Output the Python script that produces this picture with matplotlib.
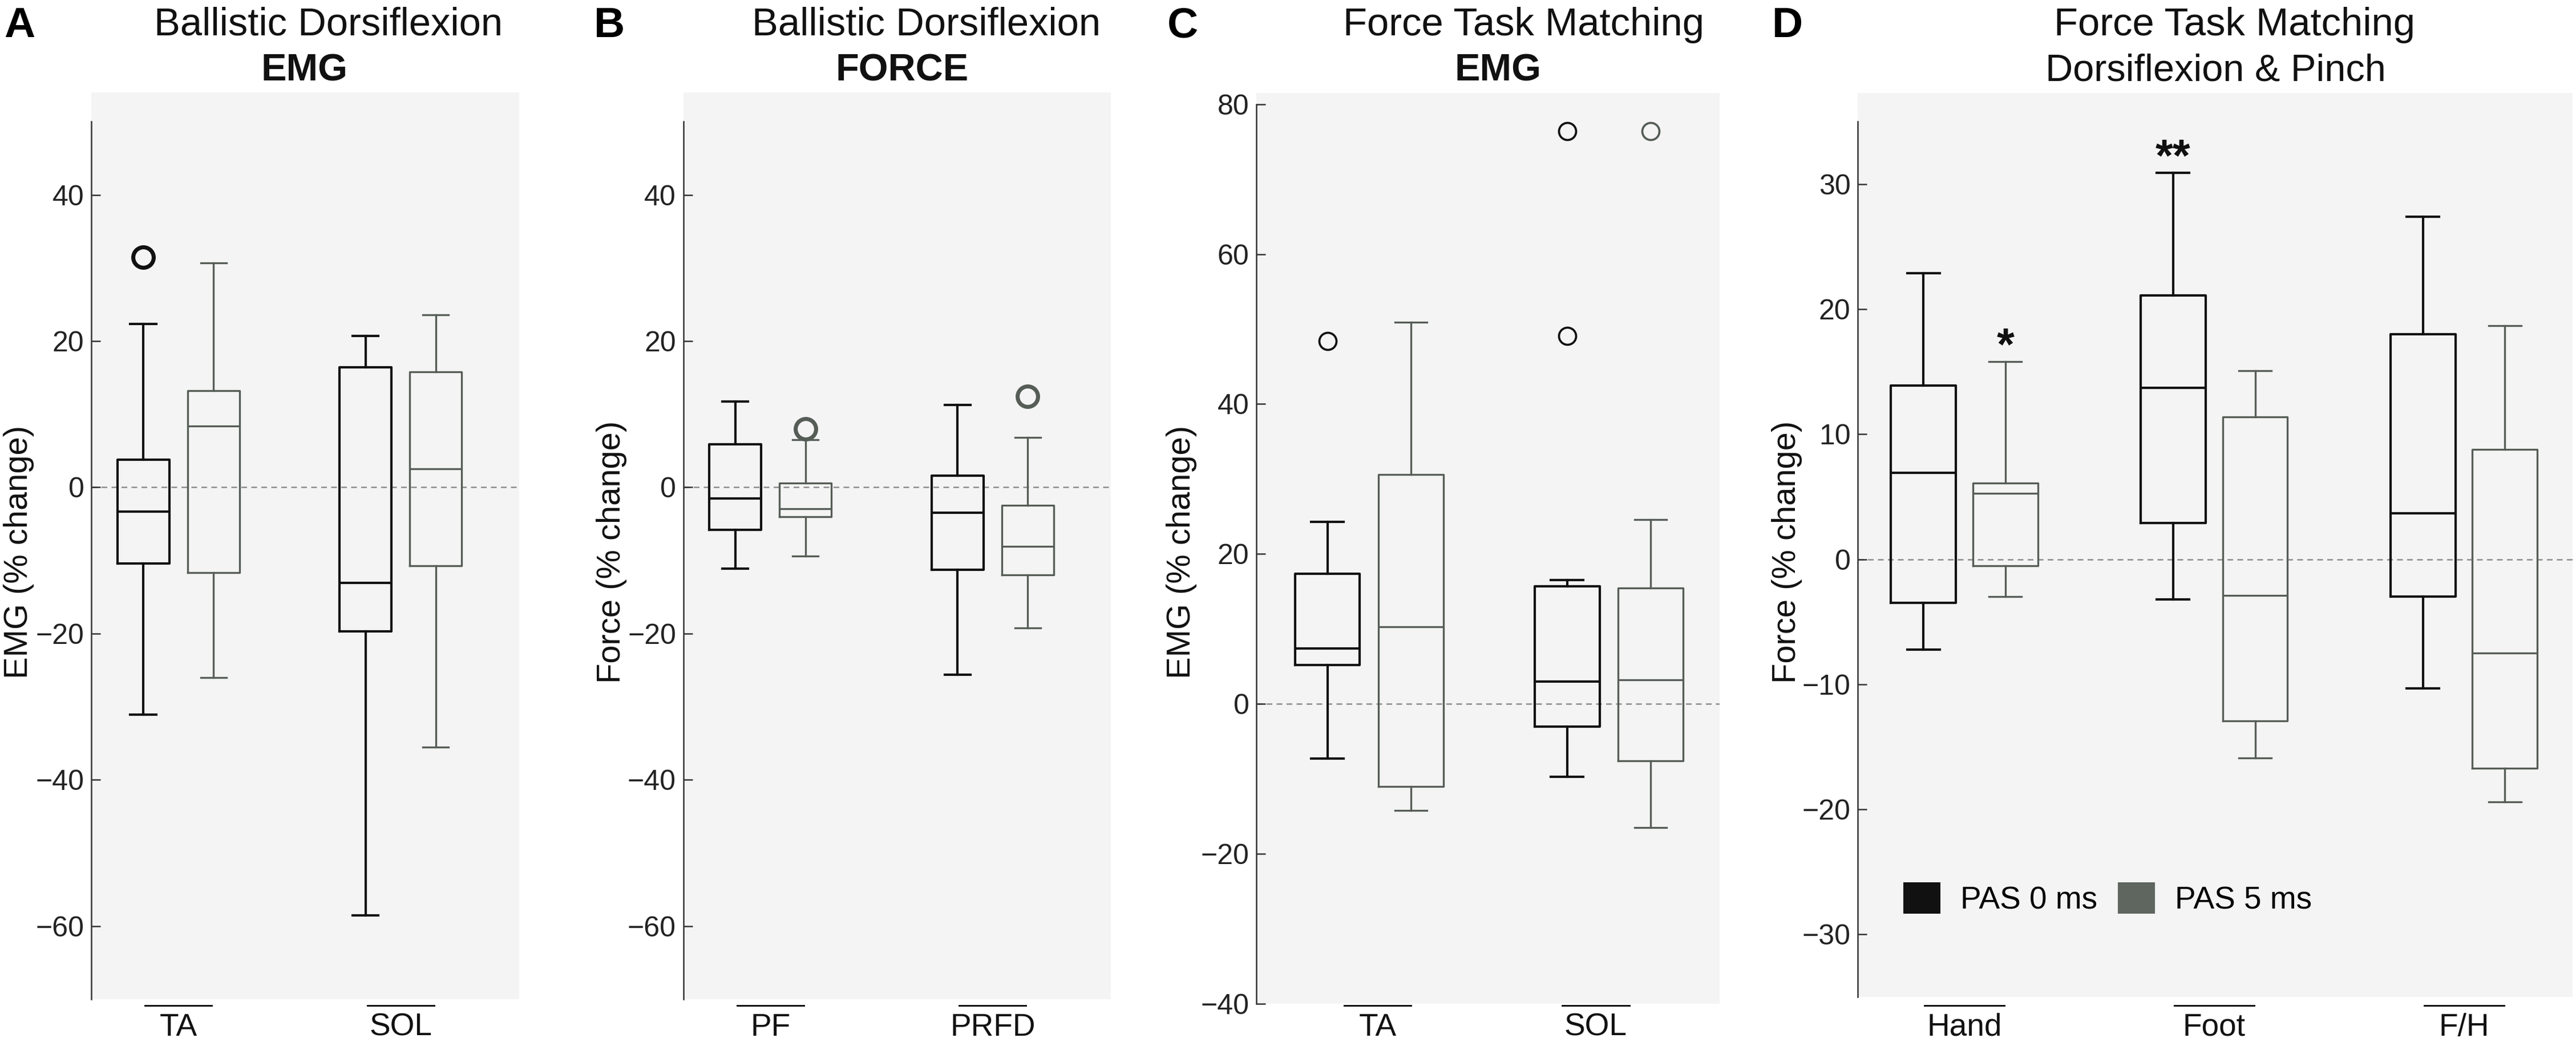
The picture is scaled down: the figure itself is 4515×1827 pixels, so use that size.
import matplotlib
matplotlib.use("Agg")
import matplotlib.pyplot as plt
from matplotlib.patches import Patch
from matplotlib.transforms import blended_transform_factory

plt.rcParams["font.family"] = ["Liberation Sans", "DejaVu Sans"]

W, H = 4515, 1827
DPI = 300

BLACK = "#111111"
GRAY = "#555d56"
BG = "#f4f4f4"
CONDITIONS = ["PAS 0 ms", "PAS 5 ms"]

# ---- A: Ballistic Dorsiflexion, EMG
a_groups = ["TA", "SOL"]
a0_whishi = [22.3, 20.7]
a0_q3 = [3.8, 16.4]
a0_med = [-3.3, -13.1]
a0_q1 = [-10.4, -19.7]
a0_whislo = [-31.1, -58.5]
a0_fliers = [[31.5], []]
a5_whishi = [30.7, 23.6]
a5_q3 = [13.2, 15.8]
a5_med = [8.4, 2.5]
a5_q1 = [-11.7, -10.7]
a5_whislo = [-26.0, -35.5]
a5_fliers = [[], []]

# ---- B: Ballistic Dorsiflexion, FORCE
b_groups = ["PF", "PRFD"]
b0_whishi = [11.7, 11.3]
b0_q3 = [5.9, 1.6]
b0_med = [-1.5, -3.5]
b0_q1 = [-5.8, -11.3]
b0_whislo = [-11.1, -25.6]
b0_fliers = [[], []]
b5_whishi = [6.5, 6.8]
b5_q3 = [0.6, -2.5]
b5_med = [-2.9, -8.1]
b5_q1 = [-4.0, -12.0]
b5_whislo = [-9.4, -19.2]
b5_fliers = [[8.0], [12.4]]

# ---- C: Force Task Matching, EMG
c_groups = ["TA", "SOL"]
c0_whishi = [24.3, 16.5]
c0_q3 = [17.4, 15.7]
c0_med = [7.4, 3.0]
c0_q1 = [5.2, -3.0]
c0_whislo = [-7.3, -9.7]
c0_fliers = [[48.4], [76.4, 49.1]]
c5_whishi = [50.9, 24.6]
c5_q3 = [30.6, 15.5]
c5_med = [10.3, 3.2]
c5_q1 = [-11.0, -7.6]
c5_whislo = [-14.2, -16.5]
c5_fliers = [[], [76.4]]

# ---- D: Force Task Matching, Dorsiflexion & Pinch
d_groups = ["Hand", "Foot", "F/H"]
d0_whishi = [22.9, 30.9, 27.4]
d0_q3 = [13.9, 21.1, 18.0]
d0_med = [6.9, 13.7, 3.7]
d0_q1 = [-3.5, 2.9, -3.0]
d0_whislo = [-7.2, -3.2, -10.3]
d0_fliers = [[], [], []]
d0_stars = ["", "**", ""]
d5_whishi = [15.8, 15.1, 18.7]
d5_q3 = [6.1, 11.4, 8.8]
d5_med = [5.3, -2.9, -7.5]
d5_q1 = [-0.5, -12.9, -16.7]
d5_whislo = [-3.0, -15.9, -19.4]
d5_fliers = [[], [], []]
d5_stars = ["*", "", ""]


def make_stats(whislo, q1, med, q3, whishi, fliers):
    return [dict(whislo=a, q1=b, med=c, q3=d, whishi=e, fliers=f)
            for a, b, c, d, e, f in zip(whislo, q1, med, q3, whishi, fliers)]


def px_axes(fig, left, top, right, bottom):
    return fig.add_axes([left / W, 1 - bottom / H, (right - left) / W, (bottom - top) / H])


def draw_boxes(ax, stats, pos, width, color, lw, ms, mew):
    props = dict(color=color, linewidth=lw)
    ax.bxp(stats, positions=pos, widths=width, showfliers=True,
           boxprops=props, whiskerprops=props, capprops=props,
           medianprops=props,
           flierprops=dict(marker="o", markerfacecolor="none", markeredgecolor=color,
                           markersize=ms, markeredgewidth=mew, linestyle="none"),
           manage_ticks=False, zorder=3)


def setup_panel(fig, ax, groups, s0, s5, offset, width, xlim, ylim, bounds, yticks,
                bottom_px, line_half, flier, label_pos=None):
    gx = list(range(1, len(groups) + 1))
    ax.set_facecolor(BG)
    ax.axhline(0, color="#8c8c8c", lw=0.6, ls=(0, (4, 3)), zorder=1)
    draw_boxes(ax, s0, [g - offset for g in gx], width, BLACK, 1.0, *flier[0])
    draw_boxes(ax, s5, [g + offset for g in gx], width, GRAY, 0.8, *flier[1])
    ax.set_xlim(*xlim)
    ax.set_ylim(*ylim)
    for side in ["top", "right", "bottom"]:
        ax.spines[side].set_visible(False)
    ax.spines["left"].set_bounds(*bounds)
    ax.spines["left"].set_color("#333333")
    ax.spines["left"].set_linewidth(0.6)
    ax.set_yticks(yticks)
    ax.tick_params(axis="y", direction="in", length=3.8, width=0.6, color="#333333",
                   pad=3, labelsize=12, labelcolor="#222222")
    lp = label_pos if label_pos is not None else gx
    ax.set_xticks(lp, groups)
    ax.tick_params(axis="x", length=0, labelsize=13.2, labelcolor="#111111",
                   pad=(1776 - bottom_px) / DPI * 72)
    tr = blended_transform_factory(ax.transData, fig.transFigure)
    yl = 1 - 1763 / H
    for x in lp:
        ax.plot([x - line_half, x + line_half], [yl, yl], transform=tr,
                clip_on=False, color="#111111", lw=0.7)


def main():
    fig = plt.figure(figsize=(W / DPI, H / DPI), dpi=DPI)

    thick = [(8.6, 1.7), (8.6, 1.7)]
    thin = [(7.2, 0.9), (7.2, 0.9)]

    ax_a = px_axes(fig, 160, 162, 909.5, 1752)
    setup_panel(fig, ax_a, a_groups,
                make_stats(a0_whislo, a0_q1, a0_med, a0_q3, a0_whishi, a0_fliers),
                make_stats(a5_whislo, a5_q1, a5_med, a5_q3, a5_whishi, a5_fliers),
                0.158, 0.233, (0.608, 2.532), (-70, 54), (-70, 50),
                [-60, -40, -20, 0, 20, 40], 1752, 0.15, thick)

    ax_b = px_axes(fig, 1197.5, 162, 1947, 1752)
    setup_panel(fig, ax_b, b_groups,
                make_stats(b0_whislo, b0_q1, b0_med, b0_q3, b0_whishi, b0_fliers),
                make_stats(b5_whislo, b5_q1, b5_med, b5_q3, b5_whishi, b5_fliers),
                0.158, 0.233, (0.608, 2.532), (-70, 54), (-70, 50),
                [-60, -40, -20, 0, 20, 40], 1752, 0.15, thick)

    ax_c = px_axes(fig, 2202, 163, 3014, 1760)
    setup_panel(fig, ax_c, c_groups,
                make_stats(c0_whislo, c0_q1, c0_med, c0_q3, c0_whishi, c0_fliers),
                make_stats(c5_whislo, c5_q1, c5_med, c5_q3, c5_whishi, c5_fliers),
                0.174, 0.27, (0.529, 2.462), (-40, 81.5), (-40, 80),
                [-40, -20, 0, 20, 40, 60, 80], 1760, 0.14, thin,
                label_pos=[1.035, 1.945])

    ax_d = px_axes(fig, 3256, 163, 4509, 1748)
    setup_panel(fig, ax_d, d_groups,
                make_stats(d0_whislo, d0_q1, d0_med, d0_q3, d0_whishi, d0_fliers),
                make_stats(d5_whislo, d5_q1, d5_med, d5_q3, d5_whishi, d5_fliers),
                0.164, 0.26, (0.573, 3.435), (-35, 37.3), (-35, 35),
                [-30, -20, -10, 0, 10, 20, 30], 1748, 0.16, thin)

    # significance stars above whisker caps
    for i, (s0, s5) in enumerate(zip(d0_stars, d5_stars)):
        if s0:
            ax_d.text(i + 1 - 0.164, d0_whishi[i] + 0.2, s0, ha="center", va="baseline",
                      fontsize=19, fontweight="bold", color=BLACK)
        if s5:
            ax_d.text(i + 1 + 0.164, d5_whishi[i] + 0.2, s5, ha="center", va="baseline",
                      fontsize=19, fontweight="bold", color=BLACK)

    ax_d.legend(handles=[Patch(facecolor=BLACK, edgecolor="none"),
                         Patch(facecolor="#5e665f", edgecolor="none")],
                labels=CONDITIONS, ncol=2, frameon=False, fontsize=13.2,
                handlelength=1.18, handleheight=1.18, handletextpad=0.64,
                columnspacing=0.66, borderpad=0, borderaxespad=0,
                loc="center left", bbox_to_anchor=(3335.6 / W, 1 - 1576 / H),
                bbox_transform=fig.transFigure)

    # y labels
    for x, txt in [(33, "EMG (% change)"), (1072, "Force (% change)"),
                   (2071.5, "EMG (% change)"), (3132, "Force (% change)")]:
        fig.text(x / W, 1 - 968 / H, txt, rotation=90, ha="center", va="center",
                 fontsize=13.9, color="#111111")

    # titles
    titles = [
        (576, "Ballistic Dorsiflexion", 533, "EMG", "bold"),
        (1623.5, "Ballistic Dorsiflexion", 1581, "FORCE", "bold"),
        (2670, "Force Task Matching", 2626, "EMG", "bold"),
        (3917, "Force Task Matching", 3883, "Dorsiflexion & Pinch", "normal"),
    ]
    for x1, t1, x2, t2, w2 in titles:
        fig.text(x1 / W, 1 - 62 / H, t1, ha="center", va="baseline", fontsize=16.5,
                 color="#111111")
        fig.text(x2 / W, 1 - 142 / H, t2, ha="center", va="baseline", fontsize=16,
                 fontweight=w2, color="#111111")

    for x, letter in [(7, "A"), (1041, "B"), (2046, "C"), (3106, "D")]:
        fig.text(x / W, 1 - 65 / H, letter, ha="left", va="baseline", fontsize=18,
                 fontweight="bold", color="#000000")

    fig.savefig("out.png", dpi=DPI)


if __name__ == "__main__":
    main()
